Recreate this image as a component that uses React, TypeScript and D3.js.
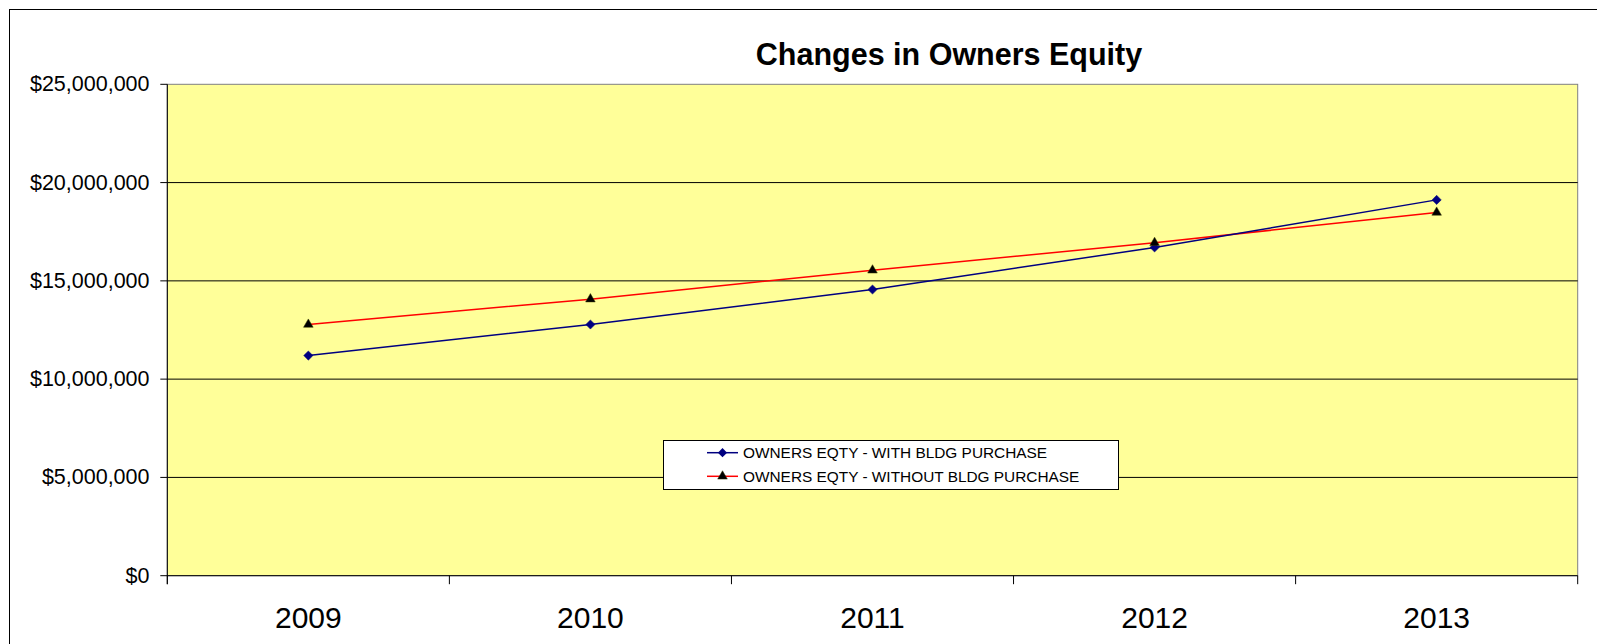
import React from "react";
import * as d3 from "d3";

const categories = ["2009", "2010", "2011", "2012", "2013"];
const withBldg = [11200000, 12780000, 14560000, 16700000, 19120000];
const withoutBldg = [12780000, 14070000, 15540000, 16940000, 18480000];
const yTicks = [0, 5000000, 10000000, 15000000, 20000000, 25000000];
const seriesNames = ["OWNERS EQTY - WITH BLDG PURCHASE", "OWNERS EQTY - WITHOUT BLDG PURCHASE"];

const W = 1597, H = 644;
const plot = { left: 167.3, right: 1577.7, top: 84.3, bottom: 575.7 };

export default function App() {
  const x = d3.scaleBand<string>().domain(categories).range([plot.left, plot.right]).padding(0);
  const y = d3.scaleLinear().domain([0, 25000000]).range([plot.bottom, plot.top]);
  const cx = (c: string) => (x(c) as number) + x.bandwidth() / 2;
  const fmt = (v: number) => "$" + d3.format(",")(v);
  const line = d3.line<number>().x((_, i) => cx(categories[i])).y((v) => y(v));
  const diamond = d3.symbol().type(d3.symbolSquare).size(42)() as string;
  const triangle = d3.symbol().type(d3.symbolTriangle).size(40)() as string;
  const boundaries = [...categories.map((c) => x(c) as number), plot.right];

  return (
    <svg width={W} height={H} style={{ position: "absolute", left: 0, top: 0 }} fontFamily="Arial, 'Liberation Sans', sans-serif">
      <rect x={0} y={0} width={W} height={H} fill="#fff" />
      <rect x={9.5} y={9.5} width={W + 20} height={H + 20} fill="none" stroke="#000" strokeWidth={1} />
      <text x={949} y={64.5} textAnchor="middle" fontSize={30.5} fontWeight="bold" fill="#000">Changes in Owners Equity</text>
      <rect x={plot.left} y={plot.top} width={plot.right - plot.left} height={plot.bottom - plot.top} fill="#FFFF99" stroke="#808080" strokeWidth={1} />
      {yTicks.filter((t) => t > 0 && t < 25000000).map((t) => (
        <line key={t} x1={plot.left} x2={plot.right} y1={y(t)} y2={y(t)} stroke="#000" strokeWidth={1} />
      ))}
      <line x1={plot.left} x2={plot.left} y1={plot.top} y2={plot.bottom + 8.5} stroke="#000" strokeWidth={1} />
      <line x1={plot.left} x2={plot.right} y1={plot.bottom} y2={plot.bottom} stroke="#000" strokeWidth={1} />
      {yTicks.map((t) => (
        <g key={t}>
          <line x1={plot.left - 7} x2={plot.left} y1={y(t)} y2={y(t)} stroke="#000" strokeWidth={1} />
          <text x={149.5} y={y(t) + 7} textAnchor="end" fontSize={21.5} fill="#000">{fmt(t)}</text>
        </g>
      ))}
      {boundaries.map((b, i) => (
        <line key={i} x1={b} x2={b} y1={plot.bottom} y2={plot.bottom + 8.5} stroke="#000" strokeWidth={1} />
      ))}
      {categories.map((c) => (
        <text key={c} x={cx(c)} y={628} textAnchor="middle" fontSize={30} fill="#000">{c}</text>
      ))}
      <path d={line(withoutBldg) as string} fill="none" stroke="#FF0000" strokeWidth={1.5} />
      <path d={line(withBldg) as string} fill="none" stroke="#000080" strokeWidth={1.5} />
      {withBldg.map((v, i) => (
        <path key={"b" + i} d={diamond} transform={`translate(${cx(categories[i])},${y(v)}) rotate(45)`} fill="#000080" stroke="#000080" strokeWidth={0.5} />
      ))}
      {withoutBldg.map((v, i) => (
        <path key={"r" + i} d={triangle} transform={`translate(${cx(categories[i])},${y(v)})`} fill="#000" stroke="#333300" strokeWidth={0.5} />
      ))}
      <rect x={663.5} y={440.5} width={455} height={49} fill="#fff" stroke="#000" strokeWidth={1} />
      <line x1={707} x2={738} y1={452.7} y2={452.7} stroke="#000080" strokeWidth={1.5} />
      <path d={diamond} transform="translate(722.5,452.7) rotate(45)" fill="#000080" />
      <text x={743} y={458} fontSize={15.4} fill="#000">{seriesNames[0]}</text>
      <line x1={707} x2={738} y1={476.3} y2={476.3} stroke="#FF0000" strokeWidth={1.5} />
      <path d={triangle} transform="translate(722.5,476.3)" fill="#000" stroke="#333300" strokeWidth={0.5} />
      <text x={743} y={481.5} fontSize={15.4} fill="#000">{seriesNames[1]}</text>
    </svg>
  );
}
